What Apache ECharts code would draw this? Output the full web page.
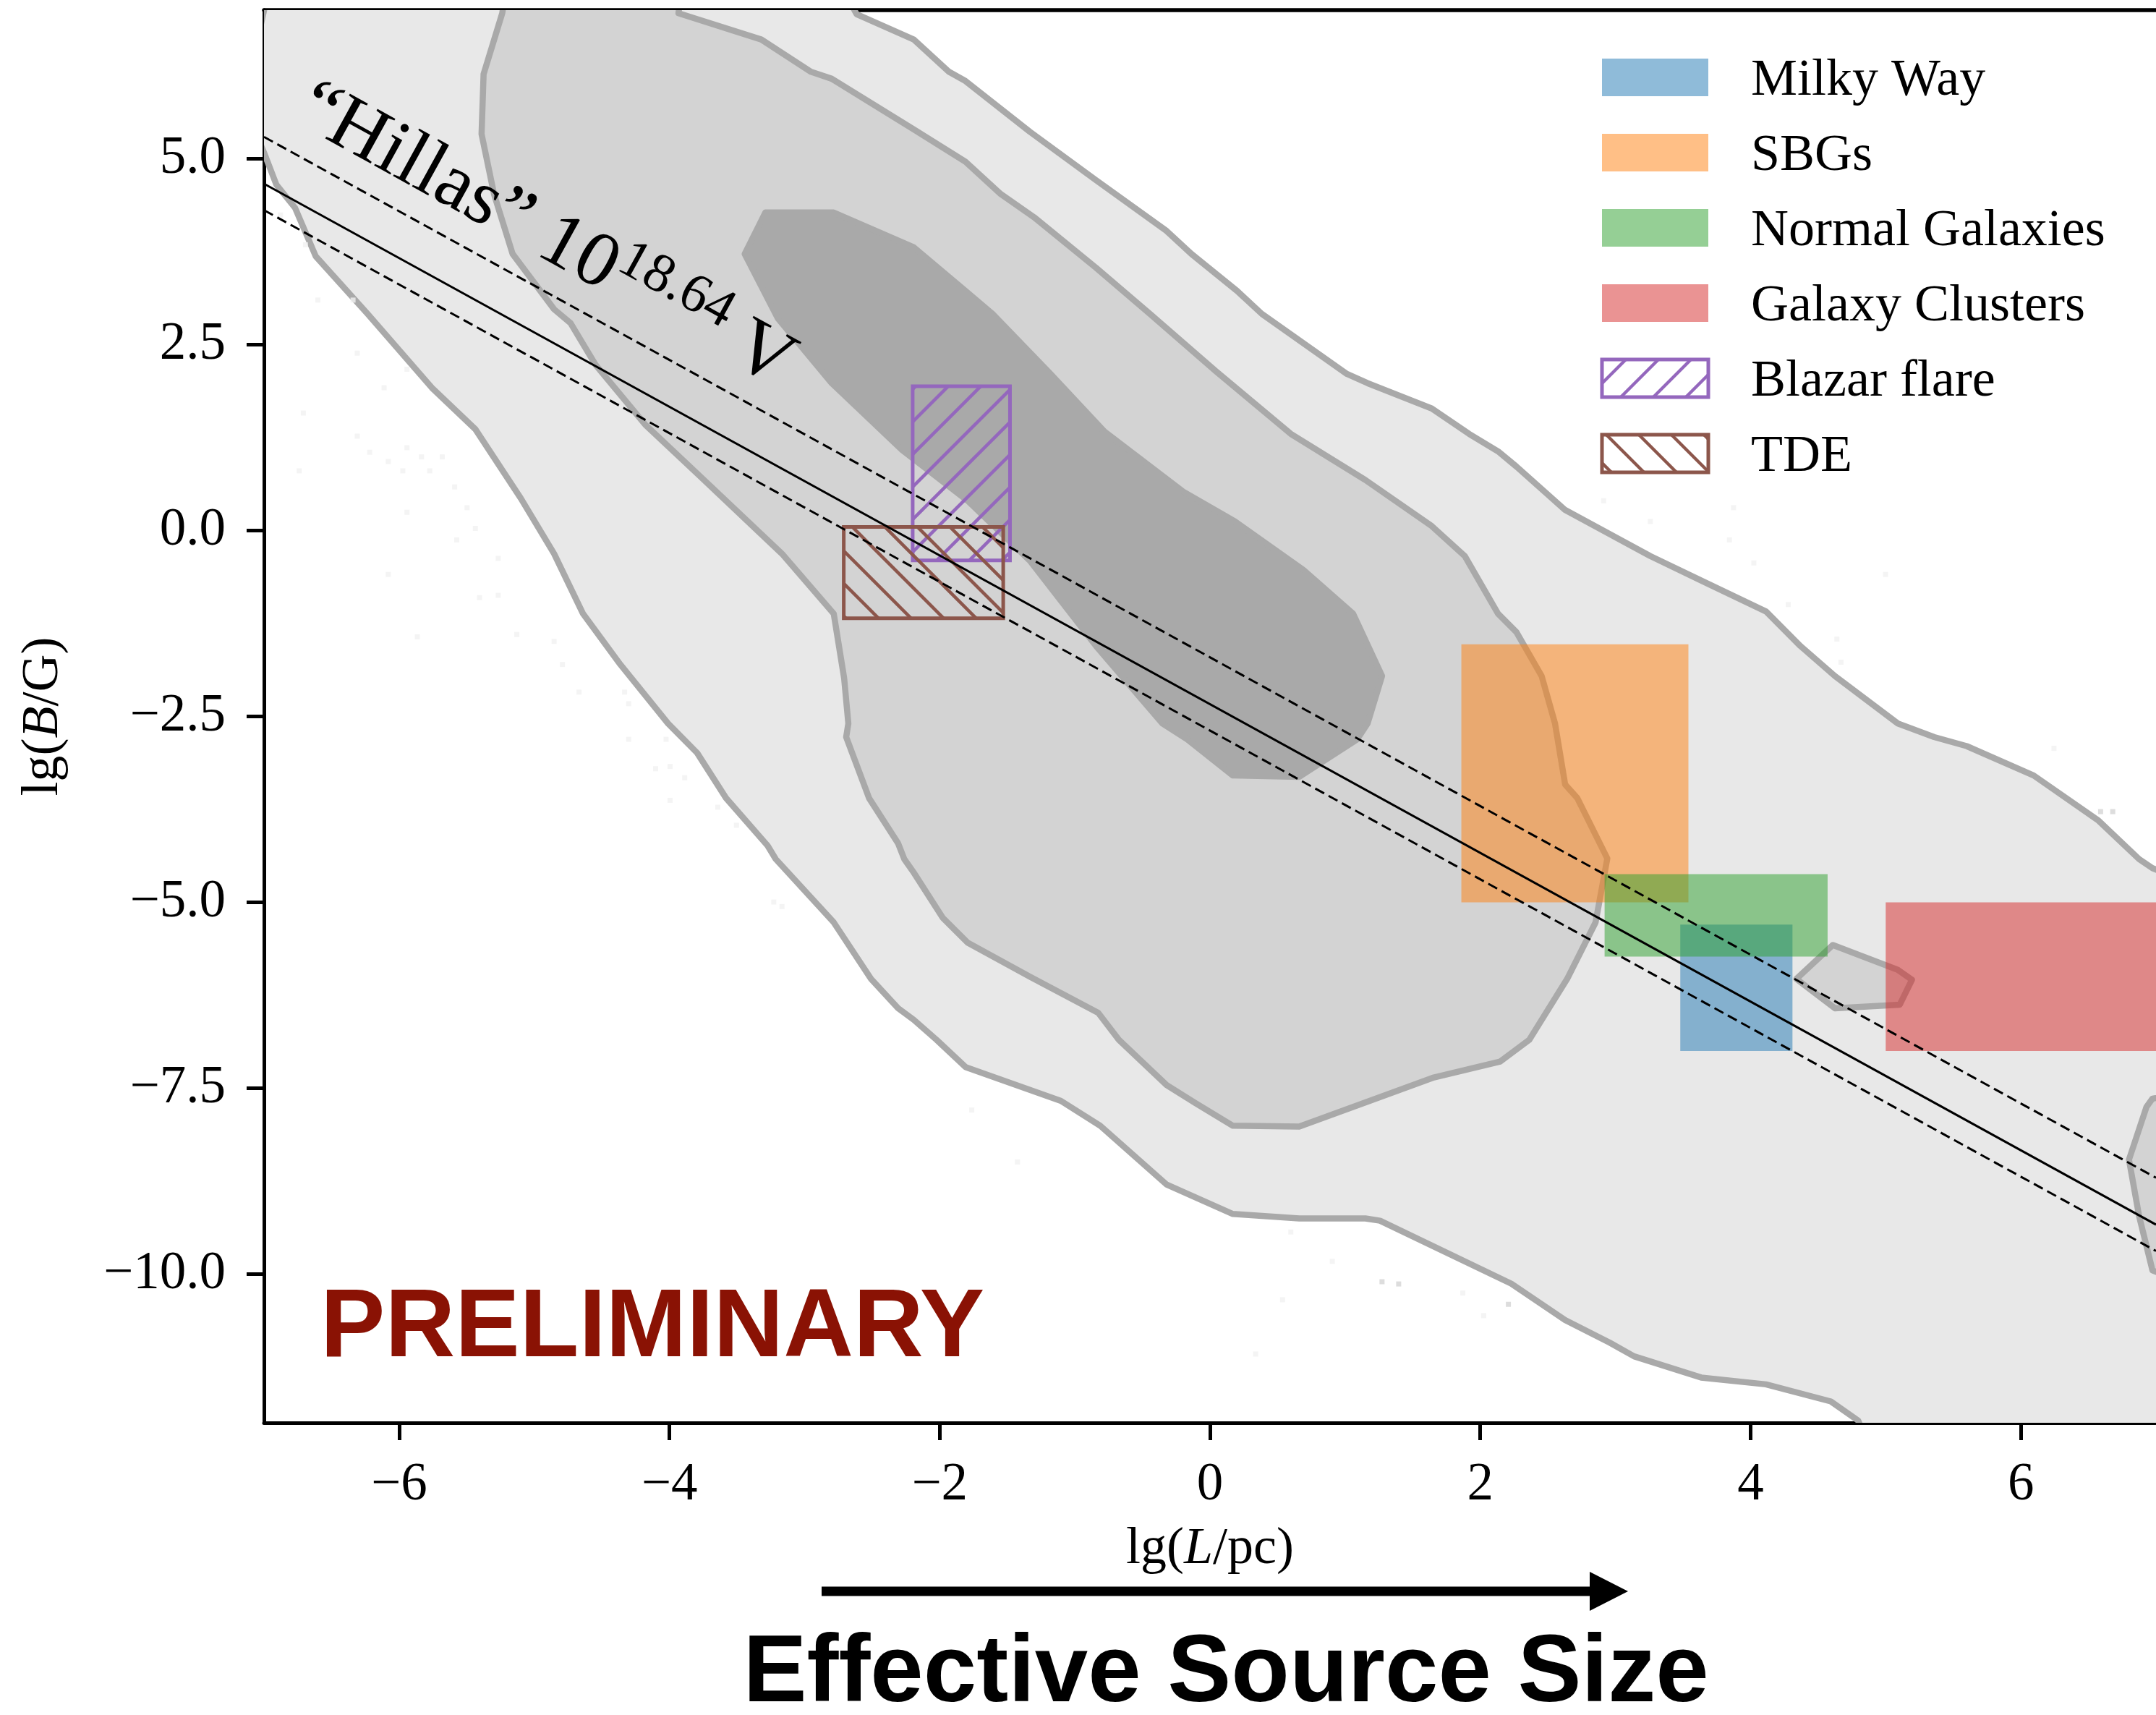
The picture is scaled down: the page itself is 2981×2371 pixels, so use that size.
<!DOCTYPE html>
<html>
<head>
<meta charset="utf-8">
<script src="https://cdn.jsdelivr.net/npm/echarts@6/dist/echarts.min.js"></script>
<style>
html,body{margin:0;padding:0;background:#fff;}
#chart{width:2981px;height:2371px;}
</style>
</head>
<body>
<div id="chart"></div>
<script>
// ---- axis ticks ----
const xTicks = [-6, -4, -2, 0, 2, 4, 6];
const yTicks = [-10, -7.5, -5, -2.5, 0, 2.5, 5];

// ---- source classes: [lg L min, lg L max, lg B min, lg B max] ----
const classNames = ['Milky Way', 'SBGs', 'Normal Galaxies', 'Galaxy Clusters', 'Blazar flare', 'TDE'];
const milkyWay       = [3.48, 4.31, -7.0, -5.3];
const sbgs           = [1.86, 3.54, -5.0, -1.53];
const normalGalaxies = [2.92, 4.57, -5.73, -4.62];
const galaxyClusters = [5.0, 7.0, -7.0, -5.0];
const blazarFlare    = [-2.2, -1.48, -0.4, 1.94];
const tde            = [-2.71, -1.53, -1.18, 0.05];

// ---- Hillas condition for 10^18.64 V (central value and band) ----
const hillasL    = [-7, 7];
const hillasMid  = [4.665, -9.335];
const hillasHigh = [5.295, -8.705];
const hillasLow  = [4.31, -9.69];

// ---- density contours of the effective source size / field distribution ----
const contourOuter = [
  [-6.95,7.4],[-2.75,7.4],[-2.615,6.946],[-2.192,6.605],[-1.931,6.17],[-1.809,6.046],[-1.333,5.364],
  [-0.843,4.713],[-0.321,4.03],[-0.137,3.72],[0.2,3.224],[0.384,2.914],[1.013,2.107],[1.166,1.983],
  [1.641,1.642],[1.917,1.301],[2.132,1.065],[2.268,0.86],[2.628,0.277],[3.258,-0.343],[3.649,-0.684],
  [4.114,-1.088],[4.369,-1.553],[4.624,-1.956],[5.09,-2.595],[5.359,-2.777],[5.599,-2.899],[6.095,-3.294],
  [6.575,-3.902],[6.875,-4.419],[6.974,-4.54],[7.4,-4.85],[7.4,-12.4],[4.9,-12.4],[4.796,-11.97],
  [4.594,-11.713],[4.114,-11.483],[3.634,-11.391],[3.138,-11.106],[2.958,-10.923],[2.628,-10.619],
  [2.23,-10.13],[1.258,-9.282],[1.15,-9.252],[0.66,-9.252],[0.169,-9.191],[-0.321,-8.796],[-0.812,-8.005],
  [-1.103,-7.671],[-1.809,-7.215],[-2.023,-6.85],[-2.192,-6.58],[-2.308,-6.425],[-2.508,-6.03],
  [-2.784,-5.27],[-3.213,-4.419],[-3.274,-4.236],[-3.581,-3.598],[-3.795,-2.99],[-4.01,-2.595],
  [-4.363,-1.801],[-4.639,-1.119],[-4.853,-0.312],[-5.099,0.432],[-5.436,1.363],[-5.758,1.921],
  [-6.233,2.914],[-6.617,3.689],[-6.77,4.34],[-6.908,4.651],[-7.0,5.085],[-7.12,5.6],[-7.12,6.3],[-7.03,6.75]
];
const contourMiddle = [
  [-5.2,7.4],[-3.9,7.4],[-3.933,6.958],[-3.32,6.605],[-2.952,6.17],[-2.799,6.077],[-2.192,5.395],
  [-1.809,4.961],[-1.548,4.526],[-1.303,4.216],[-0.843,3.534],[-0.444,2.914],[0.047,2.138],[0.598,1.301],
  [1.15,0.68],[1.641,0.06],[1.886,-0.343],[2.132,-1.119],[2.268,-1.367],[2.454,-1.956],[2.553,-2.595],
  [2.628,-3.416],[2.718,-3.598],[2.94,-4.41],[2.853,-5.27],[2.643,-6.03],[2.362,-6.85],[2.147,-7.142],
  [1.657,-7.355],[1.181,-7.671],[0.66,-8.017],[0.169,-8.005],[-0.107,-7.701],[-0.321,-7.458],
  [-0.674,-6.85],[-0.827,-6.486],[-1.333,-5.999],[-1.793,-5.543],[-1.977,-5.209],[-2.192,-4.6],
  [-2.262,-4.419],[-2.308,-4.206],[-2.523,-3.598],[-2.692,-2.777],[-2.676,-2.595],[-2.707,-1.987],
  [-2.784,-1.119],[-3.167,-0.312],[-3.78,0.742],[-4.179,1.425],[-4.547,2.231],[-4.731,2.789],
  [-4.853,2.976],[-5.16,3.72],[-5.298,4.527],[-5.39,5.333],[-5.375,6.139],[-5.237,6.958]
];
const contourMiddleIsland = [
  [4.339,-6.03],[4.609,-5.574],[5.089,-5.908],[5.194,-6.042],[5.104,-6.376],[4.624,-6.425]
];
const contourMiddleEdge = [
  [7.4,-7.5],[6.974,-7.64],[6.93,-7.75],[6.8,-8.461],[6.875,-9.221],[6.974,-9.951],[7.4,-10.25]
];
const contourInner = [
  [-3.29,4.278],[-2.784,4.278],[-2.192,3.81],[-1.809,3.224],[-1.609,2.914],[-1.18,2.107],[-0.781,1.332],
  [-0.199,0.525],[0.185,0.122],[0.691,-0.529],[1.059,-1.119],[1.273,-1.956],[1.166,-2.595],[1.089,-2.808],
  [0.66,-3.312],[0.169,-3.294],[-0.168,-2.808],[-0.352,-2.595],[-0.843,-1.553],[-1.333,-0.405],
  [-1.793,0.401],[-2.278,1.084],[-2.799,1.983],[-3.197,2.852],[-3.443,3.72]
];

// ---- individual sampled sources shown as faint points ----
const faintDots = [
  [-6.878,4.244],[-6.693,3.844],[-6.601,3.1],[-6.341,3.1],[-6.31,2.386],[-6.111,1.921],[-5.942,2.169],
  [-6.709,1.58],[-6.31,1.27],[-6.218,1.053],[-6.08,0.928],[-5.942,1.115],[-5.835,0.991],[-5.681,0.991],
  [-5.973,0.804],[-5.773,0.804],[-6.739,0.804],[-5.589,0.587],[-5.497,0.308],[-5.942,0.246],
  [-5.574,-0.126],[-5.436,0.029],[-6.08,-0.591],[-5.267,-0.374],[-5.405,-0.902],[-5.267,-0.871],
  [-5.865,-1.429],[-5.129,-1.398],[-4.853,-1.491],[-4.792,-1.801],[-4.669,-2.173],[-4.332,-2.173],
  [-4.301,-2.328],[-4.301,-2.808],[-4.025,-2.808],[-4.102,-3.203],[-3.995,-3.173],[-3.887,-3.324],
  [-3.995,-3.628],[-3.642,-3.72],[-3.504,-3.963],[-3.228,-4.996],[-3.167,-5.057],[-1.763,-7.793],
  [-1.425,-8.492],[0.598,-9.434],[0.905,-9.829],[0.537,-10.346],[0.338,-11.075],[1.871,-10.255],
  [2.025,-10.559],[2.913,0.401],[3.258,0.122],[3.874,0.308],[3.844,-0.126],[4.024,-0.436],
  [4.999,-0.591],[4.279,-0.995],[4.639,-1.46],[4.669,-1.77],[6.245,-2.929]
];
const greyDots = [
  [1.273,-10.103],[1.396,-10.133],[2.208,-10.407],[6.59,-3.78],[6.68,-3.78]
];

// ---- styling ----
const serif = "'Liberation Serif','Times New Roman',serif";
const sans = "'Liberation Sans',Arial,Helvetica,sans-serif";
const classColors = ['rgba(31,119,180,0.5)', 'rgba(255,127,14,0.5)', 'rgba(44,160,44,0.5)',
                     'rgba(214,39,40,0.5)', '#9467bd', '#8c564b'];
const classHatch = [0, 0, 0, 0, 1, -1];   // 1: '/', -1: '\'
const legendPatch = ['#8fbbd9', '#ffbf86', '#95cf95', '#ea9393', '#9467bd', '#8c564b'];
const classData = [milkyWay, sbgs, normalGalaxies, galaxyClusters, blazarFlare, tde];

function signed(v, digits) {
  const s = Math.abs(v).toFixed(digits);
  return v < 0 ? '\u2212' + s : s;
}

// diagonal hatching inside a pixel rectangle
function hatchSegments(x, y, w, h, dir, step) {
  const out = [];
  if (dir > 0) {               // x + y = c
    const c0 = Math.ceil((x + y) / step) * step, c1 = x + w + y + h;
    for (let c = c0; c <= c1; c += step) {
      const xa = Math.max(x, c - y - h), xb = Math.min(x + w, c - y);
      if (xb > xa) out.push([xa, c - xa, xb, c - xb]);
    }
  } else {                     // x - y = c
    const c0 = Math.ceil((x - y - h) / step) * step, c1 = x + w - y;
    for (let c = c0; c <= c1; c += step) {
      const xa = Math.max(x, c + y), xb = Math.min(x + w, c + y + h);
      if (xb > xa) out.push([xa, xa - c, xb, xb - c]);
    }
  }
  return out;
}

function boxElements(x, y, w, h, color, hatch) {
  const els = [];
  if (!hatch) {
    els.push({ type: 'rect', shape: { x, y, width: w, height: h }, style: { fill: color } });
  } else {
    hatchSegments(x, y, w, h, hatch, 45).forEach(s => els.push({
      type: 'line', shape: { x1: s[0], y1: s[1], x2: s[2], y2: s[3] },
      style: { stroke: color, lineWidth: 4.5 }
    }));
    els.push({ type: 'rect', shape: { x, y, width: w, height: h },
               style: { fill: 'transparent', stroke: color, lineWidth: 5 } });
  }
  return els;
}

function clipRect(cs) {
  return { type: 'rect', shape: { x: cs.x, y: cs.y, width: cs.width, height: cs.height } };
}

function contourSeries(name, points, fill, z) {
  return {
    name, type: 'custom', coordinateSystem: 'cartesian2d', data: points, encode: { x: 0, y: 1 },
    silent: true, z,
    renderItem(params, api) {
      if (params.dataIndex !== 0) return null;
      const pts = points.map(p => api.coord(p));
      return {
        type: 'polygon', shape: { points: pts },
        style: { fill, stroke: '#a9a9a9', lineWidth: 8.5, lineJoin: 'round' },
        clipPath: clipRect(params.coordSys)
      };
    }
  };
}

function classSeries(i) {
  return {
    name: classNames[i], type: 'custom', coordinateSystem: 'cartesian2d',
    data: [classData[i]], silent: true, z: classHatch[i] ? 4 : 3,
    renderItem(params, api) {
      const p0 = api.coord([api.value(0), api.value(3)]);
      const p1 = api.coord([api.value(1), api.value(2)]);
      return {
        type: 'group', clipPath: clipRect(params.coordSys),
        children: boxElements(p0[0], p0[1], p1[0] - p0[0], p1[1] - p0[1], classColors[i], classHatch[i])
      };
    }
  };
}

function hillasSeries(name, ys, dashed) {
  return {
    name, type: 'line', data: [[hillasL[0], ys[0]], [hillasL[1], ys[1]]],
    symbol: 'none', silent: true, z: 5, clip: true,
    lineStyle: { color: '#000', width: 3, type: dashed ? [14, 7] : 'solid' }
  };
}

// label placement for the Hillas line annotation (data coordinates)
const hillasLabelAt = [-4.92, 3.96];

const series = [
  contourSeries('outer', contourOuter, '#e8e8e8', 1),
  contourSeries('middle', contourMiddle, '#d3d3d3', 1),
  contourSeries('middle island', contourMiddleIsland, '#d3d3d3', 1),
  contourSeries('middle edge', contourMiddleEdge, '#d3d3d3', 1),
  contourSeries('inner', contourInner, '#a9a9a9', 1),
  { type: 'scatter', data: faintDots, symbol: 'rect', symbolSize: 7, silent: true, z: 2,
    itemStyle: { color: '#f1f1f1' } },
  { type: 'scatter', data: greyDots, symbol: 'rect', symbolSize: 7, silent: true, z: 2,
    itemStyle: { color: '#d4d4d4' } }
];
for (let i = 0; i < classNames.length; i++) series.push(classSeries(i));
series.push(hillasSeries('Hillas', hillasMid, false));
series.push(hillasSeries('Hillas high', hillasHigh, true));
series.push(hillasSeries('Hillas low', hillasLow, true));
series.push({
  type: 'custom', coordinateSystem: 'cartesian2d', data: [hillasLabelAt], silent: true, z: 6,
  renderItem(params, api) {
    const a = api.coord([hillasL[0], hillasHigh[0]]);
    const b = api.coord([hillasL[1], hillasHigh[1]]);
    const ang = Math.atan2(b[1] - a[1], b[0] - a[0]);
    const p = api.coord([api.value(0), api.value(1)]);
    return {
      type: 'text', x: p[0], y: p[1], rotation: -ang,
      style: {
        text: '{t|\u201CHillas\u201D 10}{s|18.64}{t| V}',
        align: 'center', verticalAlign: 'middle',
        rich: {
          t: { fontFamily: serif, fontSize: 108, fill: '#000', lineHeight: 130 },
          s: { fontFamily: serif, fontSize: 76, fill: '#000', lineHeight: 130, verticalAlign: 'top' }
        }
      }
    };
  }
});

// legend drawn as graphics from the class arrays
const legendEls = [];
classNames.forEach((nm, i) => {
  const cy = 107 + i * 104;
  boxElements(2215, cy - 26, 147, 52, legendPatch[i], classHatch[i]).forEach(e => legendEls.push(e));
  legendEls.push({ type: 'text', x: 2421, y: cy + 5,
    style: { text: nm, fontFamily: serif, fontSize: 72, fill: '#000', align: 'left', verticalAlign: 'middle' } });
});

const option = {
  animation: false,
  backgroundColor: '#ffffff',
  grid: { left: 365, top: 14, width: 2621, height: 1953, containLabel: false },
  xAxis: [{
    type: 'value', min: -7, max: 7, position: 'bottom',
    axisLine: { show: true, onZero: false, lineStyle: { color: '#000', width: 5 } },
    axisTick: { show: true, length: 24, customValues: xTicks, lineStyle: { color: '#000', width: 5 } },
    axisLabel: { customValues: xTicks, margin: 50, fontFamily: serif, fontSize: 73, color: '#000',
                 formatter: v => signed(v, 0) },
    splitLine: { show: false },
    name: '{r|lg(}{i|L}{r|/pc)}', nameLocation: 'middle', nameGap: 139,
    nameTextStyle: { fontFamily: serif, fontSize: 72, color: '#000',
      rich: { r: { fontFamily: serif, fontSize: 72, color: '#000' },
              i: { fontFamily: serif, fontSize: 72, color: '#000', fontStyle: 'italic' } } }
  }, {
    type: 'value', min: -7, max: 7, position: 'top',
    axisLine: { show: true, onZero: false, lineStyle: { color: '#000', width: 5.5 } },
    axisTick: { show: false }, axisLabel: { show: false }, splitLine: { show: false }
  }],
  yAxis: [{
    type: 'value', min: -12, max: 7, position: 'left',
    axisLine: { show: true, onZero: false, lineStyle: { color: '#000', width: 5 } },
    axisTick: { show: true, length: 24, customValues: yTicks, lineStyle: { color: '#000', width: 5 } },
    axisLabel: { customValues: yTicks, margin: 53, fontFamily: serif, fontSize: 73, color: '#000',
                 formatter: v => signed(v, 1) },
    splitLine: { show: false },
    name: '{r|lg(}{i|B}{r|/G)}', nameLocation: 'middle', nameGap: 269,
    nameTextStyle: { fontFamily: serif, fontSize: 72, color: '#000',
      rich: { r: { fontFamily: serif, fontSize: 72, color: '#000' },
              i: { fontFamily: serif, fontSize: 72, color: '#000', fontStyle: 'italic' } } }
  }],
  graphic: { elements: [
    { type: 'text', x: 443, y: 1838, z: 20,
      style: { text: 'PRELIMINARY', fontFamily: sans, fontWeight: 'bold', fontSize: 134, fill: '#8a1204',
               align: 'left', verticalAlign: 'middle' } },
    { type: 'rect', shape: { x: 1136, y: 2193.5, width: 1064, height: 13 }, style: { fill: '#000' } },
    { type: 'polygon', shape: { points: [[2198, 2173], [2251, 2200], [2198, 2227]] }, style: { fill: '#000' } },
    { type: 'text', x: 1695, y: 2316,
      style: { text: 'Effective Source Size', fontFamily: sans, fontWeight: 'bold', fontSize: 132, fill: '#000',
               align: 'center', verticalAlign: 'middle' } },
    { type: 'group', z: 20, children: legendEls }
  ] },
  series
};

const chart = echarts.init(document.getElementById('chart'), null, { renderer: 'canvas' });
chart.setOption(option);
</script>
</body>
</html>
